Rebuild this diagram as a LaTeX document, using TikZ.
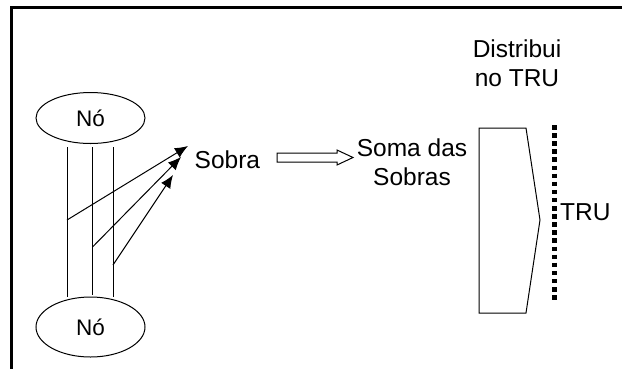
\documentclass[tikz,border=0pt]{standalone}
\usepackage{fontspec}
\setmainfont{Liberation Sans}
\usetikzlibrary{shapes.geometric,arrows.meta}
\tikzset{
  nodebox/.style={ellipse, draw, line width=1pt, minimum width=109pt, inner sep=0pt, font=\fontsize{22.5}{26}\selectfont},
  lbl/.style={inner sep=0pt, font=\fontsize{24.5}{28.5}\selectfont},
  thin/.style={line width=1pt},
  flow/.style={line width=1pt, -{Latex[length=13pt,width=11pt]}},
}
\begin{document}
\begin{tikzpicture}[x=1pt,y=-1pt]
\useasboundingbox (0,0) rectangle (622,368);
% frame
\draw[line width=2.2pt] (11.5,370) -- (11.5,7.5) -- (624,7.5);
% nodes
\node[nodebox, minimum height=51pt] (n1) at (90.5,118) {Nó};
\node[nodebox, minimum height=60pt] (n2) at (90.5,327) {Nó};
% vertical lines
\coordinate (t1) at (67,147); \coordinate (b1) at (67,297);
\coordinate (t2) at (92.5,147); \coordinate (b2) at (92.5,295);
\coordinate (t3) at (113,147); \coordinate (b3) at (113,297);
\draw[thin] (t1) -- (b1);
\draw[thin] (t2) -- (b2);
\draw[thin] (t3) -- (b3);
% Sobra
\node[lbl, anchor=base west] (sobra) at (194.5,168) {Sobra};
\coordinate (s1) at (67,220); \coordinate (e1) at (188,146);
\coordinate (s2) at (92.5,247); \coordinate (e2) at (181,157);
\coordinate (s3) at (113,265); \coordinate (e3) at (173,175);
\draw[flow] (s1) -- (e1);
\draw[flow] (s2) -- (e2);
\draw[flow] (s3) -- (e3);
% hollow arrow
\draw[thin, fill=white] (277,153) -- (337,153) -- (337,150) -- (353,157.5) -- (337,165) -- (337,162) -- (277,162) -- cycle;
% Soma das Sobras (base anchor = last line)
\node[lbl, align=center, anchor=base] (soma) at (412,185) {Soma das\\Sobras};
% Distribui no TRU
\node[lbl, align=center, anchor=base] (dist) at (517,86) {Distribui\\no TRU};
% pentagon
\draw[thin] (479,128) -- (526,128) -- (540,220) -- (526,313) -- (479,313) -- cycle;
% TRU line
\draw[line width=4.5pt, dash pattern=on 4.5pt off 3.6pt] (554.5,125) -- (554.5,303);
\node[lbl, anchor=base west] (tru) at (560,220) {TRU};
\end{tikzpicture}
\end{document}
